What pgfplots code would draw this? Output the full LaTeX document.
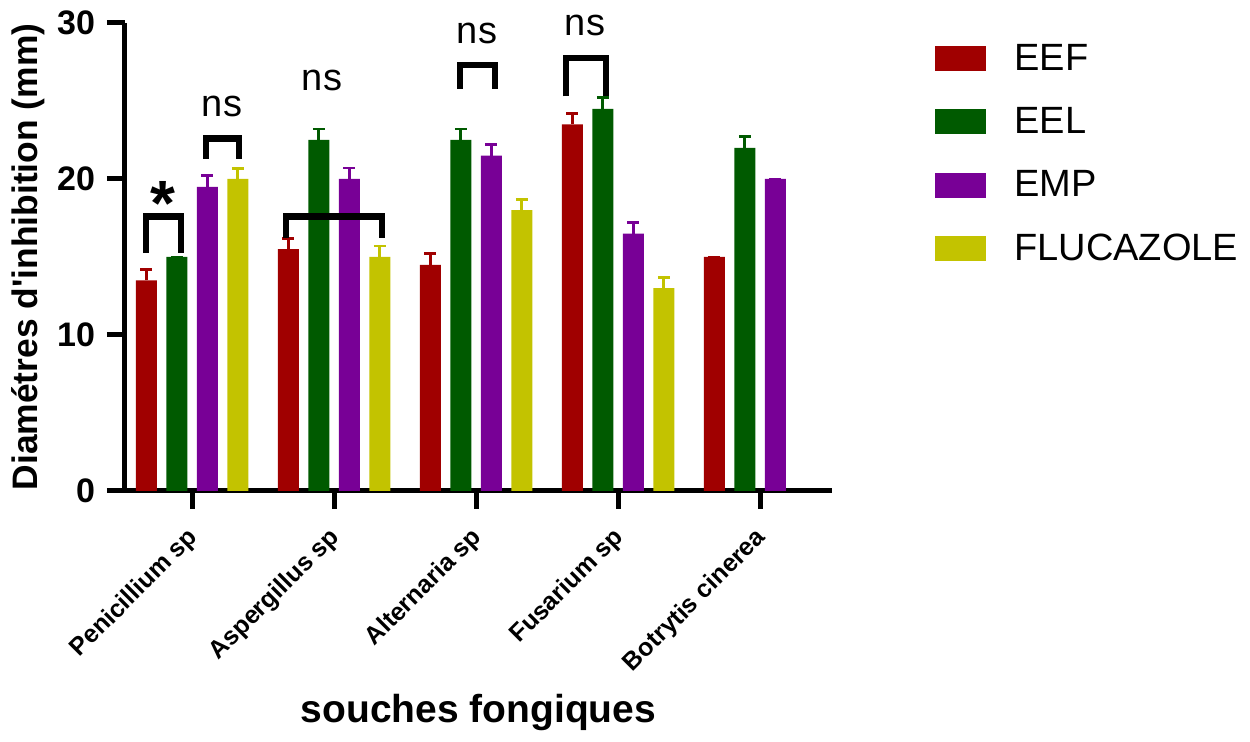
\documentclass[border=0pt]{standalone}
\usepackage{fontspec}
\setmainfont{Liberation Sans}[Ligatures=TeXOff]
\usepackage{pgfplots}
\pgfplotsset{compat=1.18}
\definecolor{ceef}{HTML}{A00000}
\definecolor{ceel}{HTML}{005A00}
\definecolor{cemp}{HTML}{780096}
\definecolor{cflu}{HTML}{C3C300}
\begin{document}
\begin{tikzpicture}
\begin{axis}[
  scale only axis, width=353.5pt, height=234pt,
  xmin=-0.472, xmax=4.507, ymin=0, ymax=30,
  axis x line*=bottom, axis y line*=left,
  axis line style={line width=2.5pt},
  ytick={0,10,20,30}, xtick={0,1,2,3,4},
  xticklabels={Penicillium sp, Aspergillus sp, Alternaria sp, Fusarium sp, Botrytis cinerea},
  major tick length=9pt, tick align=outside,
  tick style={line width=2.5pt, black},
  ybar=4.75pt, bar width=10.5pt,
  clip=false,
  /pgf/number format/assume math mode=true,
  yticklabel style={font=\bfseries\fontsize{17}{17}\selectfont, xshift=-2.5pt},
  xticklabel style={font=\bfseries\fontsize{12.5}{12.5}\selectfont, xshift=3.5pt, yshift=-10pt, rotate=45, anchor=east},
  xlabel={souches fongiques},
  ylabel={Diamétres d'inhibition (mm)},
  xlabel style={font=\bfseries\fontsize{19.5}{19.5}\selectfont, at={(axis description cs:0.5,-0.4957)}, anchor=base},
  ylabel style={font=\bfseries\fontsize{17.7}{17.7}\selectfont, at={(axis description cs:-0.137,0.5)}, anchor=center},
  error bars/y dir=plus, error bars/y explicit,
  legend style={at={(axis description cs:1.1372,0.9726)}, anchor=north west, draw=none, fill=none,
     font=\fontsize{19}{19}\selectfont, row sep=13pt,
     /tikz/every odd column/.append style={column sep=12pt}},
  legend cell align=left,
  legend image code/.code={\fill[#1] (0pt,-6.25pt) rectangle (25.5pt,6.25pt);},
]
\addplot[fill=ceef, draw=none, error bars/error bar style={draw=ceef, line width=1.4pt},
  error bars/error mark options={draw=ceef, line width=1.4pt, mark size=3pt, rotate=90}]
  coordinates {(0,13.5) +- (0,0.7) (1,15.5) +- (0,0.7) (2,14.5) +- (0,0.7) (3,23.5) +- (0,0.7) (4,15) +- (0,0)};
\addplot[fill=ceel, draw=none, error bars/error bar style={draw=ceel, line width=1.4pt},
  error bars/error mark options={draw=ceel, line width=1.4pt, mark size=3pt, rotate=90}]
  coordinates {(0,15) +- (0,0) (1,22.5) +- (0,0.7) (2,22.5) +- (0,0.7) (3,24.5) +- (0,0.7) (4,22) +- (0,0.7)};
\addplot[fill=cemp, draw=none, error bars/error bar style={draw=cemp, line width=1.4pt},
  error bars/error mark options={draw=cemp, line width=1.4pt, mark size=3pt, rotate=90}]
  coordinates {(0,19.5) +- (0,0.7) (1,20) +- (0,0.7) (2,21.5) +- (0,0.7) (3,16.5) +- (0,0.7) (4,20) +- (0,0)};
\addplot[fill=cflu, draw=none, error bars/error bar style={draw=cflu, line width=1.4pt},
  error bars/error mark options={draw=cflu, line width=1.4pt, mark size=3pt, rotate=90}]
  coordinates {(0,20) +- (0,0.65) (1,15) +- (0,0.7) (2,18) +- (0,0.7) (3,13) +- (0,0.7)};
\legend{EEF,EEL,EMP,FLUCAZOLE}
% significance brackets
\draw[line width=3.2pt, line join=miter] (axis cs:-0.324,15.25) -- (axis cs:-0.324,17.6) -- (axis cs:-0.077,17.6) -- (axis cs:-0.077,15.25);
\draw[line width=3.2pt, line join=miter] (axis cs:0.099,21.3) -- (axis cs:0.099,22.6) -- (axis cs:0.331,22.6) -- (axis cs:0.331,21.3);
\draw[line width=3.2pt, line join=miter] (axis cs:0.662,16.2) -- (axis cs:0.662,17.6) -- (axis cs:1.338,17.6) -- (axis cs:1.338,16.2);
\draw[line width=3.2pt, line join=miter] (axis cs:1.887,25.8) -- (axis cs:1.887,27.3) -- (axis cs:2.134,27.3) -- (axis cs:2.134,25.8);
\draw[line width=3.2pt, line join=miter] (axis cs:2.634,25.3) -- (axis cs:2.634,27.75) -- (axis cs:2.915,27.75) -- (axis cs:2.915,25.3);
\node[font=\bfseries\fontsize{32}{32}\selectfont, anchor=base, inner sep=0pt] at (axis cs:-0.204,17.0) {*};
\node[font=\fontsize{19}{19}\selectfont, anchor=base, inner sep=0pt] at (axis cs:0.211,24.0) {ns};
\node[font=\fontsize{19}{19}\selectfont, anchor=base, inner sep=0pt] at (axis cs:0.915,25.7) {ns};
\node[font=\fontsize{19}{19}\selectfont, anchor=base, inner sep=0pt] at (axis cs:2.007,28.7) {ns};
\node[font=\fontsize{19}{19}\selectfont, anchor=base, inner sep=0pt] at (axis cs:2.768,29.2) {ns};
\end{axis}
\pgfresetboundingbox
\path[use as bounding box] (-62.5pt,-125.5pt) rectangle (562.5pt,245.5pt);
\end{tikzpicture}
\end{document}
